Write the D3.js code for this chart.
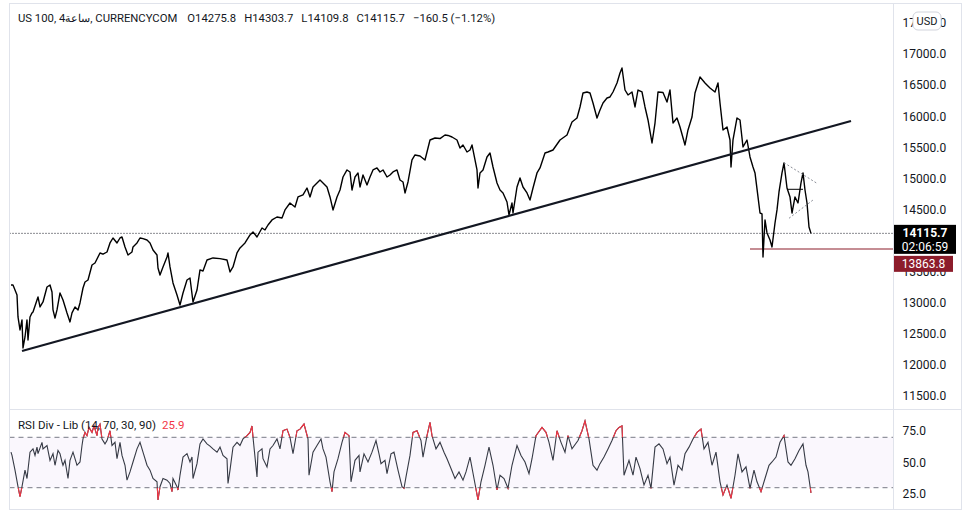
<!DOCTYPE html>
<html><head><meta charset="utf-8">
<script src="https://cdn.jsdelivr.net/npm/d3@7"></script>
<style>
body{margin:0;background:#fff;}
svg{display:block;font-family:Roboto,"Noto Sans",sans-serif;}
</style>
</head><body>
<svg id="c" width="967" height="513"></svg>
<script>
// ---------- DATA ----------
const headerParts = ["US 100, 4ساعة, CURRENCYCOM", "O14275.8", "H14303.7", "L14109.8", "C14115.7", "−160.5 (−1.12%)"];
const priceBars = [0,2,6,7,9,11,12,14,16,17,19,21,22,26,27,29,32,36,39,41,42,44,46,49,52,56,59,61,64,67,69,72,74,77,81,84,89,92,96,99,102,106,109,111,114,117,121,122,126,129,132,136,139,142,146,147,149,152,156,157,159,162,166,169,172,176,179,182,186,189,192,196,202,209,216,219,222,226,229,234,239,242,246,251,254,257,261,266,271,274,279,284,287,292,296,299,302,309,312,316,319,322,326,329,332,336,339,341,344,347,349,352,356,359,362,366,369,372,376,379,382,386,389,392,394,397,401,404,409,414,417,419,424,429,434,437,441,446,449,452,456,459,461,464,466,467,469,472,476,479,482,486,489,492,496,498,501,502,506,509,512,516,519,522,526,529,534,537,542,549,556,561,566,569,572,576,579,582,586,589,592,596,599,602,606,609,611,614,617,621,624,627,631,634,637,641,644,647,652,656,659,662,666,669,674,677,681,684,689,694,699,704,707,709,712,716,719,720,722,726,729,732,736,739,742,744,747,749,751,752,754,756,759,761,764,766,768,771,773,776,779,781,784,787,790,792,794,796,798,800];
const priceValues = [13285,13285,13125,12771,12562,12723,12272,12449,12723,12401,12771,12836,12852,13045,13093,12932,13012,13253,13285,13173,12884,12755,12884,13157,13045,12836,12691,12836,12932,12884,12996,13237,13334,13366,13607,13639,13800,13780,13816,13961,14041,13961,14041,14057,13897,13768,13816,13897,13961,14041,14030,14009,13961,13848,13768,13559,13446,13575,13736,13800,13575,13318,13125,12964,13157,13366,13398,13012,13205,13527,13510,13687,13720,13710,13687,13495,13575,13800,13881,13961,14090,14138,14057,14202,14170,14250,14331,14379,14363,14492,14604,14540,14701,14733,14845,14701,14861,14974,14926,14861,14701,14492,14701,14813,15022,15135,15103,14813,15022,15087,14861,15054,14894,15022,15135,15167,15103,15135,15022,15054,15103,15135,14974,14942,14765,14942,15296,15376,15360,15296,15488,15617,15649,15640,15698,15690,15665,15617,15488,15537,15424,15456,15537,15296,15135,14845,15087,15135,15344,15408,15183,14926,14813,14765,14620,14411,14604,14443,14861,15006,14861,14765,14652,14845,15087,15167,15408,15424,15456,15617,15698,15907,15971,16148,16373,16389,16373,16212,15971,16100,16212,16292,16309,16389,16534,16694,16775,16421,16341,16389,16148,16421,16389,16148,15939,15569,15890,16389,16380,16228,16421,15890,15971,15826,15537,15778,15987,16373,16630,16534,16453,16389,16534,16212,15778,15826,15617,15183,15617,15971,15939,15505,15617,15344,15183,15087,14701,14443,14430,13736,14331,14122,14009,13897,14282,14492,14781,15087,15247,14845,14701,14443,14701,14604,14926,15087,14813,14604,14218,14115.7];
const rsiBars = [0,1,4,7,9,11,14,16,19,22,24,26,27,31,32,36,39,42,44,47,49,51,52,54,57,59,62,66,69,71,72,74,76,78,81,83,86,87,89,91,94,96,99,101,104,106,109,111,114,116,119,122,126,129,132,136,139,142,146,147,149,152,156,159,161,162,166,167,169,172,176,179,181,182,186,189,192,196,199,202,206,209,212,216,217,219,222,226,229,232,236,239,241,242,246,247,251,252,256,259,262,266,269,272,276,279,282,286,289,293,297,298,302,306,310,312,315,319,321,323,327,331,334,338,340,344,348,349,353,357,361,365,368,370,374,376,380,383,387,391,393,395,399,402,406,410,412,416,419,421,425,429,433,436,440,444,448,452,455,459,463,467,470,474,478,482,486,489,493,497,501,506,510,514,518,521,525,531,535,538,542,546,550,554,557,561,567,571,574,578,582,586,589,593,597,601,605,608,611,613,618,622,625,629,633,637,640,644,648,652,656,659,663,667,671,674,678,682,686,690,693,697,701,705,709,712,716,720,724,727,731,735,739,743,746,750,754,758,761,765,769,773,777,780,784,788,792,795,797,800];
const rsiValues = [58.2,55.6,43.9,30.8,23,30.8,43.9,37.3,58.2,60.8,55.6,62.2,57,66,60.8,63.5,51.7,57,47.8,59.5,57,50.4,47.8,51.7,37.3,51.7,58.2,47.8,50.4,63.5,68.7,73.9,71.3,77.8,73.9,79,71.3,77.8,80.5,68.7,64.8,67.4,75.2,63.5,66,53,66,55.6,47.8,36,42.5,50.4,60.8,66,58.2,47.8,43.9,37.3,34.7,20.3,30.8,37.3,36,33.4,26.9,37.3,30.8,28.2,39.9,54.3,57,50.4,54.3,37.3,49.1,64.8,68.7,64.8,63,60.8,58.2,62.2,55.6,53,33.4,43.9,62.2,66,63.5,68.7,71.3,73.9,79,70,38.6,58.2,60.8,53,46.5,60.8,63.5,68.7,60.8,75.2,76.5,70,57,75.2,76.5,80.5,68.7,39.9,58.2,63.5,68.7,60.8,54.3,34.7,26.9,42.5,53,66,73.9,71.3,34.7,51.7,55.6,42.5,56.9,50.4,58.2,67.4,56.9,49.1,51.7,41.2,56.9,58.2,43.9,30.8,29.5,38.6,55.6,73.9,75.2,67.4,54.3,71.3,81.8,71.3,60.8,66,58.2,53,45.2,37.3,42.5,36,42.5,54.3,37.3,20.3,34.7,47.8,62.2,47.8,28.2,39.9,37.3,29.5,47.8,63.5,55.6,50.4,41.2,53,71.3,77.8,73.9,66,51.7,75.2,66,58.2,71.3,60.8,67.4,75.2,83,68.7,47.8,43.9,49.1,54.3,60.8,67.4,75.2,77.8,79,39.9,51.7,39.9,54.3,45.2,32.1,39.9,29.5,62.2,64.8,60.8,49.1,54.3,32.1,47.8,43.9,56.9,62.2,68.7,73.9,76.5,60.8,66,47.8,58.2,34.7,24.2,32.1,21.6,39.9,56.9,42.5,46.5,29.5,43.9,34.7,26.9,37.3,47.8,50.4,54.3,66,71.3,50.4,47.8,53,59.5,64.8,47.8,42.5,25.9];
// 14000.0 sits under the last-price label (hidden in the reference)
const priceTicks = [11500,12000,12500,13000,13500,14500,15000,15500,16000,16500,17000,17500];
const rsiTicks = [25,50,75];
const rsiLevels = [70,30];
const rsiTitle = "RSI Div - Lib (14, 70, 30, 90)";
const trendBars = [11,840], trendPrices = [12224,15923];
const triUpperBars = [773,806], triUpperPrices = [15252,14920];
const triLowerBars = [778,803], triLowerPrices = [14358,14664];
const triMidBars = [776,792], triMidPrices = [14824,14824];
const supportStartBar = 739, supportPrice = 13863.8;
const lastPrice = 14115.7, countdown = "02:06:59";
const lastRsi = 25.9;

// ---------- LAYOUT ----------
const L = 9.5, R = 893.5, T = 3.5, B = 509.5, SEP = 409.5, RIGHT = 961.5;
const svg = d3.select("#c");
const ink = "#131722";

const x = d3.scaleLinear().domain([0, 882]).range([11, 893]);
const y = d3.scaleLinear().domain([11500, 17000]).range([396, 54]);
const yr = d3.scaleLinear().domain([25, 75]).range([494, 431]);

const defs = svg.append("defs");
defs.append("clipPath").attr("id","pclip").append("rect").attr("x",L+0.5).attr("y",T+0.5).attr("width",R-L-1).attr("height",SEP-T-1);
defs.append("clipPath").attr("id","rclip").append("rect").attr("x",L+0.5).attr("y",SEP+0.5).attr("width",R-L-1).attr("height",B-SEP-1);
const rc = defs.append("clipPath").attr("id","redclip");
rc.append("rect").attr("x",L).attr("y",SEP).attr("width",R-L).attr("height",yr(70)-SEP);
rc.append("rect").attr("x",L).attr("y",yr(30)).attr("width",R-L).attr("height",B-yr(30));

// ---------- RSI PANE ----------
const rp = svg.append("g").attr("clip-path","url(#rclip)");
rp.append("rect").attr("x",L).attr("width",R-L).attr("y",yr(70)).attr("height",yr(30)-yr(70)).attr("fill","#faf7fd");
rp.selectAll("line.lvl").data(rsiLevels).join("line").attr("class","lvl")
  .attr("x1",L).attr("x2",R).attr("y1",d=>yr(d)).attr("y2",d=>yr(d))
  .attr("stroke","#787b86").attr("stroke-dasharray","5,4").attr("stroke-width",1);
const rsiData = rsiBars.map((b,i)=>[b,rsiValues[i]]);
const rline = d3.line().x(d=>x(d[0])).y(d=>yr(d[1]));
rp.append("path").datum(rsiData).attr("d",rline).attr("fill","none").attr("stroke","#363a45").attr("stroke-width",1.1);
rp.append("g").attr("clip-path","url(#redclip)").append("path").datum(rsiData).attr("d",rline).attr("fill","none").attr("stroke","#f23645").attr("stroke-width",1.1);

// ---------- PRICE PANE ----------
const pp = svg.append("g").attr("clip-path","url(#pclip)");
pp.append("line").attr("x1",L).attr("x2",R).attr("y1",y(lastPrice)).attr("y2",y(lastPrice))
  .attr("stroke",ink).attr("stroke-dasharray","1,2").attr("stroke-width",1);
pp.append("line").attr("x1",x(supportStartBar)).attr("x2",R).attr("y1",y(supportPrice)).attr("y2",y(supportPrice))
  .attr("stroke","#8c1c2b").attr("stroke-width",1.2);
const priceData = priceBars.map((b,i)=>[b,priceValues[i]]);
pp.append("path").datum(priceData).attr("d",d3.line().x(d=>x(d[0])).y(d=>y(d[1])))
  .attr("fill","none").attr("stroke","#000").attr("stroke-width",1.4).attr("stroke-linejoin","round");
const seg = (bars, prices) => bars.map((b,i)=>[b,prices[i]]);
const sline = d3.line().x(d=>x(d[0])).y(d=>y(d[1]));
pp.append("path").datum(seg(trendBars,trendPrices)).attr("d",sline).attr("stroke","#131722").attr("stroke-width",2.2).attr("fill","none");
[[triUpperBars,triUpperPrices],[triLowerBars,triLowerPrices]].forEach(([b,p])=>{
  pp.append("path").datum(seg(b,p)).attr("d",sline).attr("stroke","#8a8d96").attr("stroke-width",1).attr("stroke-dasharray","2,2").attr("fill","none");
});
pp.append("path").datum(seg(triMidBars,triMidPrices)).attr("d",sline).attr("stroke","#000").attr("stroke-width",1).attr("fill","none");

// ---------- FRAME ----------
const fr = svg.append("g").attr("fill","none").attr("stroke","#e0e3eb").attr("stroke-width",1);
fr.append("rect").attr("x",L).attr("y",T).attr("width",RIGHT-L).attr("height",B-T);
fr.append("line").attr("x1",R).attr("x2",R).attr("y1",T).attr("y2",B);
fr.append("line").attr("x1",L).attr("x2",RIGHT).attr("y1",SEP).attr("y2",SEP);

// ---------- AXES ----------
const fmt = d3.format(".1f");
const pax = svg.append("g").attr("transform",`translate(${R},0)`)
  .call(d3.axisRight(y).tickValues(priceTicks).tickFormat(fmt).tickSize(0).tickPadding(9));
const rax = svg.append("g").attr("transform",`translate(${R},0)`)
  .call(d3.axisRight(yr).tickValues(rsiTicks).tickFormat(fmt).tickSize(0).tickPadding(9));
[pax,rax].forEach(a=>{
  a.select(".domain").remove();
  a.selectAll("text").attr("fill",ink).attr("font-size","12px").attr("font-family","Roboto,sans-serif");
});

// USD badge
const ub = svg.append("g");
ub.append("rect").attr("x",913).attr("y",12).attr("width",28).attr("height",18).attr("rx",5)
  .attr("fill","#fff").attr("stroke","#d1d4dc");
ub.append("text").attr("x",927).attr("y",21).attr("dy","0.35em").attr("text-anchor","middle")
  .attr("font-size","11px").attr("fill",ink).text("USD");

// last price + countdown
const lpY = y(lastPrice);
const boxTop = lpY - 8.5;
svg.append("rect").attr("x",R+0.5).attr("y",boxTop).attr("width",62).attr("height",29).attr("fill","#000");
svg.append("text").attr("x",R+31.5).attr("y",boxTop+7.5).attr("dy","0.35em").attr("text-anchor","middle")
  .attr("fill","#fff").attr("font-size","12px").attr("font-weight","bold").text(fmt(lastPrice));
svg.append("text").attr("x",R+31.5).attr("y",boxTop+21.5).attr("dy","0.35em").attr("text-anchor","middle")
  .attr("fill","#fff").attr("font-size","12px").text(countdown);
svg.append("rect").attr("x",R+0.5).attr("y",boxTop+31).attr("width",59).attr("height",16).attr("fill","#8c1c2b");
svg.append("text").attr("x",R+30).attr("y",boxTop+39).attr("dy","0.35em").attr("text-anchor","middle")
  .attr("fill","#fff").attr("font-size","12px").text(fmt(supportPrice));

// ---------- HEADER ----------
const hg = svg.append("g").attr("font-size","11.3px").attr("fill",ink);
let hx = 18;
headerParts.forEach((t,i)=>{
  const tx = hg.append("text").attr("x",hx).attr("y",18).attr("dy","0.35em").text(t);
  hx += tx.node().getComputedTextLength() + (i === 0 ? 10 : 8);
});

// RSI title
const rt = svg.append("text").attr("x",18).attr("y",425).attr("dy","0.35em").attr("font-size","11.5px").attr("fill",ink).text(rsiTitle);
svg.append("text").attr("x",18 + rt.node().getComputedTextLength() + 6).attr("y",425).attr("dy","0.35em")
  .attr("font-size","11.5px").attr("fill","#f23645").text(fmt(lastRsi));
</script>
</body></html>
